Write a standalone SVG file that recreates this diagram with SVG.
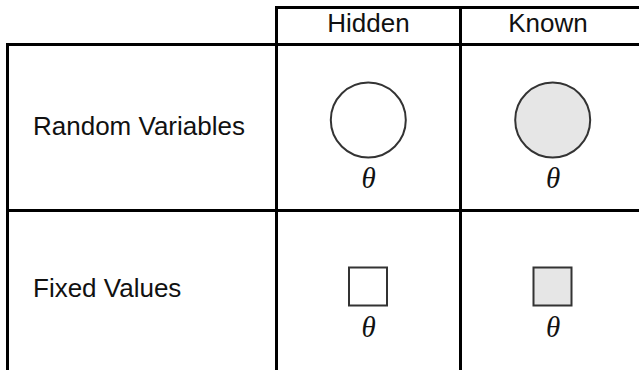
<svg xmlns="http://www.w3.org/2000/svg" width="639" height="370" viewBox="0 0 639 370">
<style>
.grid{stroke:#000;stroke-width:3;fill:none}
.lbl{font-family:"Liberation Sans",Arial,sans-serif;font-size:26px;fill:#111}
.sym{font-family:"Liberation Serif","Times New Roman",serif;font-style:italic;font-size:29px;fill:#111;text-anchor:middle}
.node{stroke:#333;stroke-width:2}
.hidden{fill:#fff}
.known{fill:#e6e6e6}
</style>
<rect width="639" height="370" fill="#fff"/>
<g id="connectors">
<line class="grid" x1="276.5" y1="7.5" x2="639" y2="7.5"/>
<line class="grid" x1="6" y1="44.5" x2="639" y2="44.5"/>
<line class="grid" x1="6" y1="210.5" x2="639" y2="210.5"/>
<line class="grid" x1="7.5" y1="43" x2="7.5" y2="370"/>
<line class="grid" x1="276.5" y1="6" x2="276.5" y2="370"/>
<line class="grid" x1="460.5" y1="6" x2="460.5" y2="370"/>
</g>
<g id="header-hidden"><text class="lbl" x="368.5" y="32" text-anchor="middle">Hidden</text></g>
<g id="header-known"><text class="lbl" x="548" y="32" text-anchor="middle">Known</text></g>
<g id="row-random"><text class="lbl" x="33" y="135">Random Variables</text></g>
<g id="row-fixed"><text class="lbl" x="33" y="297">Fixed Values</text></g>
<g id="rv-hidden">
<circle class="node hidden" cx="368.3" cy="120" r="37.5"/>
<text class="sym" x="368.5" y="188">θ</text>
</g>
<g id="rv-known">
<circle class="node known" cx="552.7" cy="120" r="37.5"/>
<text class="sym" x="553" y="188">θ</text>
</g>
<g id="fv-hidden">
<rect class="node hidden" x="349" y="267.5" width="38" height="38"/>
<text class="sym" x="368.5" y="336.5">θ</text>
</g>
<g id="fv-known">
<rect class="node known" x="533.5" y="267.5" width="38" height="38"/>
<text class="sym" x="553" y="336.5">θ</text>
</g>
</svg>
